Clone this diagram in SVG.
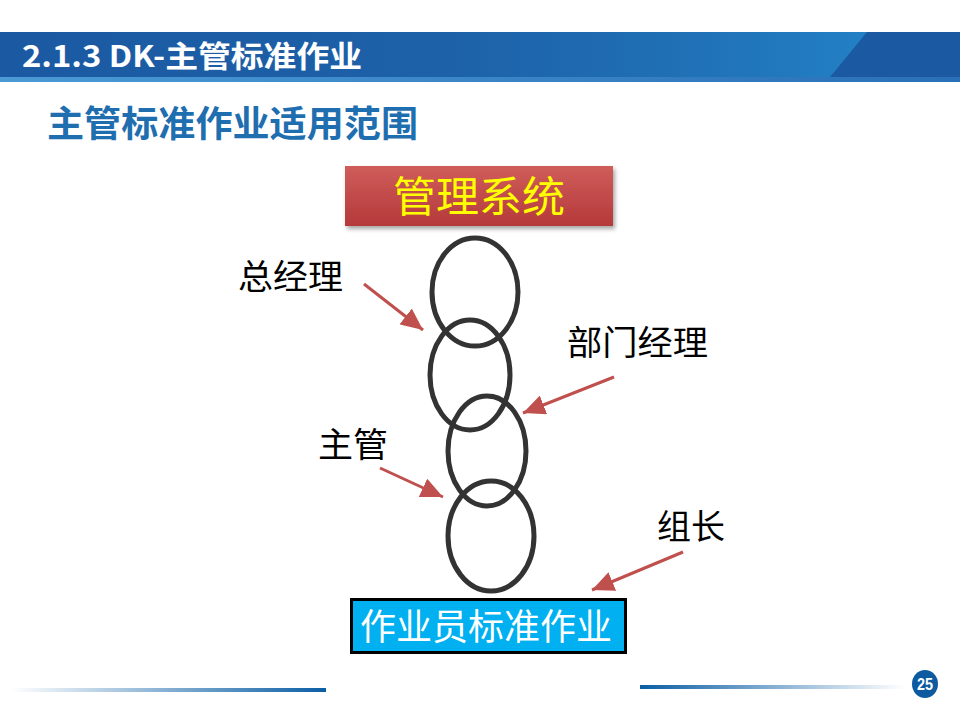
<svg xmlns="http://www.w3.org/2000/svg" width="960" height="720" viewBox="0 0 960 720">
<style>
.cjk{font-family:"Noto Sans CJK SC","Noto Sans",sans-serif}
.lbl{font-size:34px;fill:#000}
.ring{fill:none;stroke:#333;stroke-width:5}
.arr{stroke:#c0504d;stroke-width:3;fill:none}
</style>
<defs>
<linearGradient id="hdr" x1="0" y1="0" x2="1" y2="0">
<stop offset="0" stop-color="#1e62aa" stop-opacity="0"/>
<stop offset="0.5" stop-color="#1e66ad" stop-opacity="0.6"/>
<stop offset="1" stop-color="#2380c4"/>
</linearGradient>
<linearGradient id="hdrB" x1="0" y1="0" x2="1" y2="0">
<stop offset="0" stop-color="#4a9ad6"/>
<stop offset="1" stop-color="#2a70b8"/>
</linearGradient>
<linearGradient id="red" x1="0" y1="0" x2="0" y2="1">
<stop offset="0" stop-color="#cf5d5a"/>
<stop offset="1" stop-color="#b5393a"/>
</linearGradient>
<linearGradient id="fl" x1="0" y1="0" x2="1" y2="0">
<stop offset="0" stop-color="#0b5ea5" stop-opacity="0"/>
<stop offset="1" stop-color="#0b5ea5"/>
</linearGradient>
<linearGradient id="fr" x1="0" y1="0" x2="1" y2="0">
<stop offset="0" stop-color="#0b5ea5"/>
<stop offset="1" stop-color="#0b5ea5" stop-opacity="0"/>
</linearGradient>
<filter id="sh" x="-10%" y="-20%" width="120%" height="150%">
<feDropShadow dx="2" dy="3" stdDeviation="2" flood-color="#000" flood-opacity="0.35"/>
</filter>
<marker id="ah" markerUnits="userSpaceOnUse" markerWidth="24" markerHeight="20" refX="22" refY="10" orient="auto">
<path d="M0,0 L22,10 L0,20 Z" fill="#c0504d"/>
</marker>
</defs>

<g id="header">
<rect x="0" y="32" width="960" height="50" fill="#1b5aa2"/>
<polygon points="0,32 867,32 830,77 0,77" fill="url(#hdr)"/>
<rect x="0" y="77" width="960" height="5" fill="url(#hdrB)"/>
<text x="22" y="67" class="cjk" font-size="30" font-weight="bold" fill="#fff" textLength="340" lengthAdjust="spacingAndGlyphs">2.1.3 DK-主管标准作业</text>
</g>

<g id="subtitle">
<text x="47" y="137" class="cjk" font-size="36" font-weight="bold" fill="#1f6fb0" textLength="371" lengthAdjust="spacingAndGlyphs">主管标准作业适用范围</text>
</g>

<g id="mgmt">
<rect x="345" y="166" width="268" height="60" fill="url(#red)" filter="url(#sh)"/>
<text x="479" y="212" class="cjk" font-size="42" fill="#ffff00" text-anchor="middle" textLength="172" lengthAdjust="spacingAndGlyphs">管理系统</text>
</g>

<g id="rings">
<ellipse class="ring" cx="475" cy="292" rx="43" ry="54"/>
<ellipse class="ring" cx="470" cy="375" rx="40" ry="55"/>
<ellipse class="ring" cx="487" cy="451" rx="39" ry="55"/>
<ellipse class="ring" cx="491" cy="536" rx="43" ry="55"/>
</g>

<g id="worker">
<rect x="351.5" y="599.5" width="274" height="53" fill="#00b0f0" stroke="#000" stroke-width="3"/>
<text x="486" y="640" class="cjk" font-size="36" fill="#fff" text-anchor="middle" textLength="252" lengthAdjust="spacingAndGlyphs">作业员标准作业</text>
</g>

<g id="labels">
<text x="238" y="289" class="cjk lbl" textLength="105" lengthAdjust="spacingAndGlyphs">总经理</text>
<text x="567" y="355" class="cjk lbl" textLength="141" lengthAdjust="spacingAndGlyphs">部门经理</text>
<text x="318" y="457" class="cjk lbl" textLength="70" lengthAdjust="spacingAndGlyphs">主管</text>
<text x="657" y="539" class="cjk lbl" textLength="68" lengthAdjust="spacingAndGlyphs">组长</text>
</g>

<g id="connectors">
<line class="arr" x1="364" y1="284" x2="423" y2="330" marker-end="url(#ah)"/>
<line class="arr" x1="614" y1="377" x2="523" y2="413" marker-end="url(#ah)"/>
<line class="arr" x1="380" y1="468" x2="443" y2="497" marker-end="url(#ah)"/>
<line class="arr" x1="683" y1="552" x2="592" y2="590" marker-end="url(#ah)"/>
</g>

<g id="footer">
<rect x="10" y="688" width="316" height="4" fill="url(#fl)"/>
<rect x="640" y="685" width="265" height="4" fill="url(#fr)"/>
<ellipse cx="925" cy="684" rx="13" ry="14" fill="#0d5aa0"/>
<text x="925" y="690" font-family="Liberation Sans Narrow, Liberation Sans, sans-serif" font-size="16" font-weight="bold" fill="#fff" text-anchor="middle" textLength="16" lengthAdjust="spacingAndGlyphs">25</text>
</g>
</svg>
